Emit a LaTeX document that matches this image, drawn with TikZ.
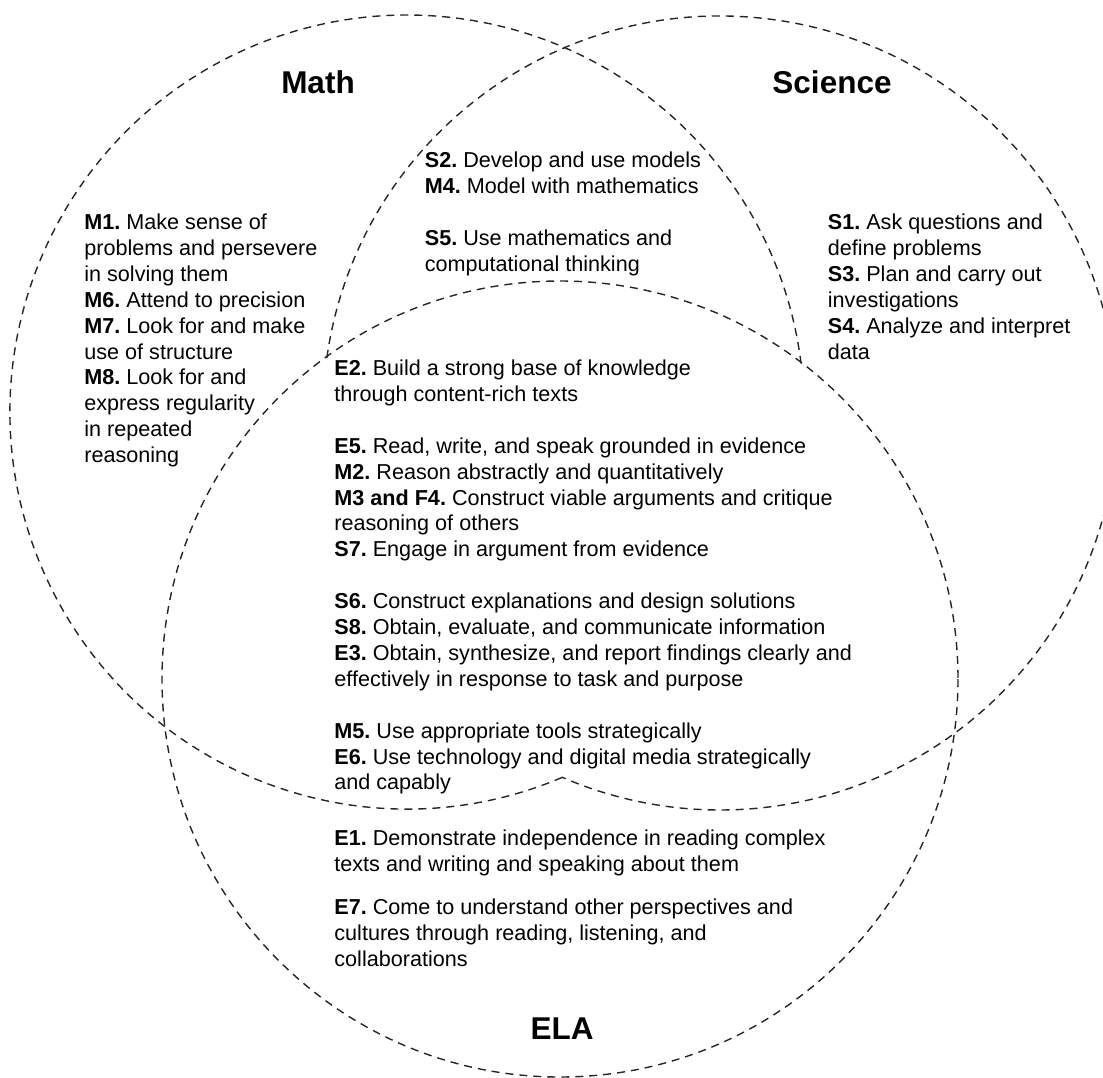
\documentclass[tikz,border=0pt]{standalone}
\usepackage{fontspec}
\setmainfont{Liberation Sans}
\frenchspacing
\usepackage{tikz}
\usetikzlibrary{positioning}

\begin{document}
\begin{tikzpicture}[
  x=0.5pt, y=-0.5pt,
  venn/.style={draw=black!85, line width=0.7pt, dash pattern=on 4pt off 3pt},
  head/.style={anchor=base, inner sep=0pt, font=\fontsize{15.75pt}{19pt}\selectfont\bfseries},
  txt/.style={anchor=north west, inner sep=0pt, align=left, font=\fontsize{10.8pt}{12.95pt}\selectfont},
]
\useasboundingbox (0,0) rectangle (1103,1077);
\coordinate (cmath) at (407,412);
\coordinate (csci) at (720,413);
\coordinate (cela) at (560,679);

% circles, the arcs inside the middle region are left out
\begin{scope}
\clip (0,0) rectangle (1103,1077);
\draw[venn] (cela) circle[radius=398];
\draw[venn] (cmath) ++(67:397) arc[start angle=67, end angle=353, radius=397];
\draw[venn] (csci) ++(188:397) arc[start angle=188, end angle=473.5, radius=397];
\end{scope}

\node[head] (mathhead) at (318,93) {Math};
\node[head] (scihead) at (832,93) {Science};
\node[head] (elahead) at (562,1039) {ELA};

\node[txt] (mathonly) at (84,213.5)
  {\textbf{M1.} Make sense of\\problems and persevere\\in solving them\\
   \textbf{M6.} Attend to precision\\\textbf{M7.} Look for and make\\use of structure\\
   \textbf{M8.} Look for and\\express regularity\\in repeated\\reasoning};
\node[txt] (mathsci) at (424.5,151.5)
  {\textbf{S2.} Develop and use models\\\textbf{M4.} Model with mathematics\\[\baselineskip]
   \textbf{S5.} Use mathematics and\\computational thinking};
\node[txt] (scionly) at (827.5,213.5)
  {\textbf{S1.} Ask questions and\\define problems\\\textbf{S3.} Plan and carry out\\
   investigations\\\textbf{S4.} Analyze and interpret\\data};

\node[txt] (core) at (334,359.5)
  {\textbf{E2.} Build a strong base of knowledge\\through content-rich texts\\[\baselineskip]
   \textbf{E5.} Read, write, and speak grounded in evidence\\
   \textbf{M2.} Reason abstractly and quantitatively\\
   \textbf{M3 and F4.} Construct viable arguments and critique\\reasoning of others\\
   \textbf{S7.} Engage in argument from evidence\\[\baselineskip]
   \textbf{S6.} Construct explanations and design solutions\\
   \textbf{S8.} Obtain, evaluate, and communicate information\\
   \textbf{E3.} Obtain, synthesize, and report findings clearly and\\
   effectively in response to task and purpose\\[\baselineskip]
   \textbf{M5.} Use appropriate tools strategically\\
   \textbf{E6.} Use technology and digital media strategically\\and capably};

\node[txt] (elaone) at (334,829.5)
  {\textbf{E1.} Demonstrate independence in reading complex\\texts and writing and speaking about them};
\node[txt] (elaseven) at (334,898.5)
  {\textbf{E7.} Come to understand other perspectives and\\cultures through reading, listening, and\\collaborations};
\end{tikzpicture}
\end{document}
